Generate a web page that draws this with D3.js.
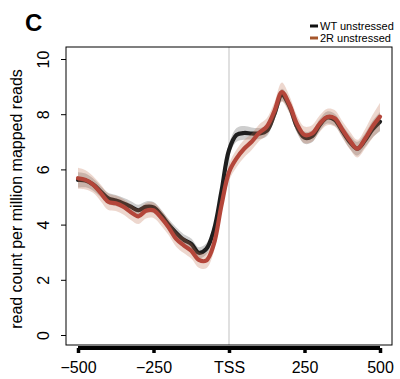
<!DOCTYPE html>
<html>
<head>
<meta charset="utf-8">
<script src="https://cdn.jsdelivr.net/npm/d3@7"></script>
<style>
  html, body { margin: 0; padding: 0; background: #fff; }
  svg { display: block; font-family: "Liberation Sans", Arial, sans-serif; }
</style>
</head>
<body>
<svg id="chart" width="400" height="379"></svg>
<script>
// Positions relative to the TSS (bp)
const positions = [-500,-475,-450,-425,-400,-375,-350,-325,-300,-275,-250,-225,-200,-175,-150,-125,-100,-75,-50,-25,0,
                   25,50,75,100,125,150,175,200,225,250,275,300,325,350,375,400,425,450,475,500];

// Mean read count per million mapped reads
const wtMean = [5.62,5.60,5.45,5.20,4.95,4.87,4.77,4.65,4.52,4.64,4.62,4.35,4.00,3.70,3.45,3.30,2.98,3.12,3.80,5.20,6.70,
                7.25,7.32,7.30,7.30,7.40,8.00,8.70,8.30,7.55,7.15,7.20,7.60,7.88,7.80,7.40,7.00,6.75,7.05,7.45,7.73];
const r2Mean = [5.68,5.62,5.45,5.15,4.83,4.77,4.65,4.45,4.30,4.50,4.52,4.25,3.90,3.48,3.25,3.05,2.72,2.70,3.30,4.70,5.90,
                6.40,6.75,7.00,7.33,7.55,8.10,8.80,8.35,7.65,7.25,7.30,7.65,7.90,7.85,7.45,7.05,6.75,7.10,7.55,7.91];

// Half-width of the confidence band around each mean
const wtBand = [0.28,0.25,0.22,0.20,0.20,0.20,0.20,0.20,0.20,0.20,0.20,0.20,0.20,0.20,0.20,0.20,0.20,0.20,0.20,0.20,0.22,
                0.25,0.25,0.22,0.20,0.20,0.22,0.22,0.22,0.22,0.22,0.22,0.22,0.22,0.22,0.22,0.25,0.25,0.25,0.30,0.35];
const r2Band = [0.38,0.35,0.30,0.30,0.30,0.28,0.28,0.28,0.28,0.28,0.28,0.28,0.28,0.28,0.28,0.28,0.28,0.28,0.28,0.28,0.30,
                0.32,0.32,0.30,0.30,0.30,0.32,0.35,0.32,0.30,0.30,0.30,0.30,0.30,0.30,0.30,0.32,0.32,0.35,0.42,0.50];

const xTicks = [-500, -250, 0, 250, 500];
const xTickLabels = ["\u2212500", "\u2212250", "TSS", "250", "500"];
const yTicks = [0, 2, 4, 6, 8, 10];

const series = [
  { name: "WT unstressed", mean: wtMean, band: wtBand, line: "#1e1e1e", fill: "rgba(60,60,60,0.25)", key: "#111111" },
  { name: "2R unstressed", mean: r2Mean, band: r2Band, line: "#b4463a", fill: "rgba(190,110,80,0.28)", key: "#a5562b" }
];

const svg = d3.select("#chart");

// Plot box and scales
const box = { left: 66, right: 392, top: 47, bottom: 345 };
const x = d3.scaleLinear().domain([-500, 500]).range([78, 380]);
const y = d3.scaleLinear().domain([0, 10]).range([335, 59]);

// Panel letter
svg.append("text")
  .attr("x", 25).attr("y", 31)
  .attr("font-size", 24).attr("font-weight", "bold")
  .text("C");

// TSS marker
svg.append("line")
  .attr("x1", x(0)).attr("x2", x(0))
  .attr("y1", box.top).attr("y2", box.bottom)
  .attr("stroke", "#d6d6d6").attr("stroke-width", 1.5);

// Bands and lines
series.forEach(s => {
  const pts = positions.map((p, i) => ({ p, m: s.mean[i], b: s.band[i] }));
  const area = d3.area()
    .x(d => x(d.p)).y0(d => y(d.m - d.b)).y1(d => y(d.m + d.b))
    .curve(d3.curveCatmullRom.alpha(0.5));
  const line = d3.line()
    .x(d => x(d.p)).y(d => y(d.m))
    .curve(d3.curveCatmullRom.alpha(0.5));
  svg.append("path").datum(pts).attr("d", area).attr("fill", s.fill);
  svg.append("path").datum(pts).attr("d", line)
    .attr("fill", "none").attr("stroke", s.line).attr("stroke-width", 4.2)
    .attr("stroke-linejoin", "round").attr("stroke-linecap", "round");
});

// Frame
svg.append("rect")
  .attr("x", box.left).attr("y", box.top)
  .attr("width", box.right - box.left).attr("height", box.bottom - box.top)
  .attr("fill", "none").attr("stroke", "#000").attr("stroke-width", 1);

// Y axis
const yAxis = svg.append("g").attr("transform", `translate(${box.left},0)`)
  .call(d3.axisLeft(y).tickValues(yTicks).tickSize(5).tickPadding(0).tickFormat(d3.format("d")));
yAxis.select(".domain").remove();
yAxis.selectAll(".tick line").attr("stroke", "#000");
yAxis.selectAll(".tick text")
  .attr("font-size", 16).attr("font-family", "Liberation Sans, Arial, sans-serif")
  .attr("fill", "#000")
  .attr("transform", "translate(-23,0) rotate(-90)")
  .attr("x", 0).attr("dy", "0.35em")
  .attr("text-anchor", "middle");

// X axis (thick line under the frame)
const xAxis = svg.append("g").attr("transform", "translate(0,348)")
  .call(d3.axisBottom(x).tickValues(xTicks).tickSize(5).tickPadding(9)
        .tickFormat((d, i) => xTickLabels[i]));
xAxis.select(".domain").attr("d", `M${x(-500)},0H${x(500)}`)
  .attr("stroke", "#000").attr("stroke-width", 4);
xAxis.selectAll(".tick line").attr("stroke", "#000").attr("stroke-width", 3.5);
xAxis.selectAll(".tick text")
  .attr("font-size", 16).attr("font-family", "Liberation Sans, Arial, sans-serif")
  .attr("fill", "#000");

// Y title
svg.append("text")
  .attr("transform", `translate(22,${(box.top + box.bottom) / 2 + 3}) rotate(-90)`)
  .attr("text-anchor", "middle")
  .attr("font-size", 16)
  .text("read count per million mapped reads");

// Legend
const legend = svg.append("g");
series.forEach((s, i) => {
  const ly = 26 + i * 12;
  legend.append("line")
    .attr("x1", 310).attr("x2", 318).attr("y1", ly).attr("y2", ly)
    .attr("stroke", s.key).attr("stroke-width", 3);
  legend.append("text")
    .attr("x", 320).attr("y", ly).attr("dy", "0.35em")
    .attr("font-size", 11)
    .text(s.name);
});
</script>
</body>
</html>
